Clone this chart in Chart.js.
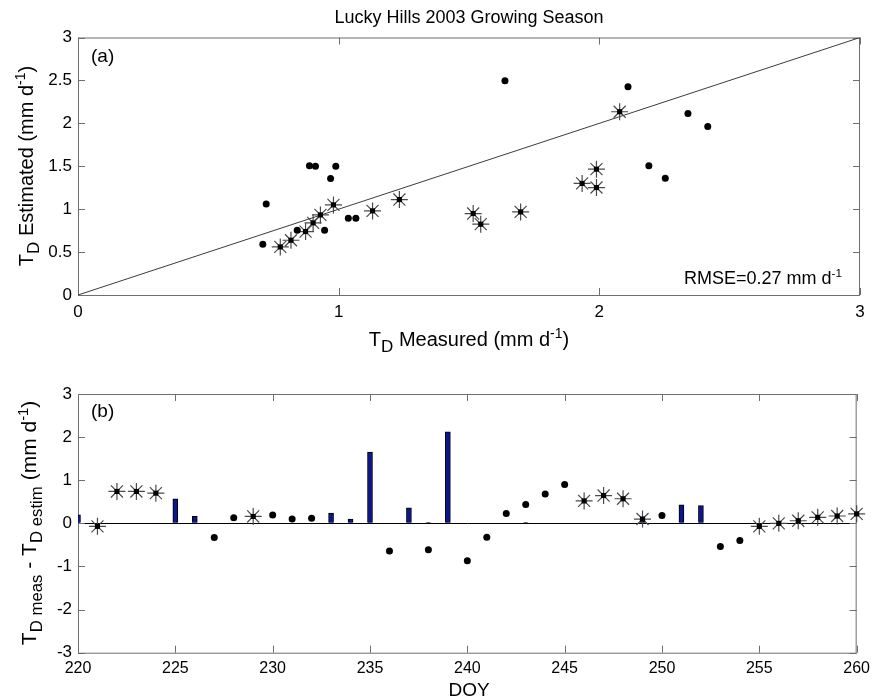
<!DOCTYPE html>
<html>
<head>
<meta charset="utf-8">
<script src="https://cdn.jsdelivr.net/npm/chart.js@4.4.1/dist/chart.umd.min.js"></script>
<style>
  html, body { margin: 0; padding: 0; background: #fff; }
  #wrap { position: relative; width: 876px; height: 700px; }
  canvas { position: absolute; left: 0; }
</style>
</head>
<body>
<div id="wrap">
  <canvas id="chartA" width="876" height="365" style="top:0"></canvas>
  <canvas id="chartB" width="876" height="335" style="top:365px"></canvas>
</div>
<script>
// (a) measured vs estimated, mm/d
const dotMeasured  = [0.709, 0.722, 0.841, 0.888, 0.911, 0.946, 0.969, 0.989, 1.037, 1.066, 1.638, 2.110, 2.190, 2.253, 2.340, 2.416];
const dotEstimated = [0.59, 1.06, 0.755, 1.505, 1.50, 0.755, 1.357, 1.50, 0.895, 0.895, 2.497, 2.427, 1.505, 1.36, 2.116, 1.964];
const starMeasured  = [0.776, 0.817, 0.873, 0.902, 0.930, 0.980, 1.130, 1.233, 1.516, 1.545, 1.698, 1.934, 1.989, 1.989, 2.078];
const starEstimated = [0.56, 0.638, 0.739, 0.84, 0.933, 1.05, 0.98, 1.112, 0.949, 0.825, 0.968, 1.30, 1.466, 1.252, 2.135];
const oneToOne = [0, 3];

// (b) difference by day of year
const dotDays = [227, 228, 230, 231, 232, 236, 238, 240, 241, 242, 243, 244, 245, 250, 253, 254];
const dotDiff = [-0.33, 0.13, 0.195, 0.10, 0.12, -0.64, -0.61, -0.87, -0.32, 0.23, 0.44, 0.68, 0.90, 0.18, -0.535, -0.40];
const starDays = [221, 222, 223, 224, 229, 246, 247, 248, 249, 255, 256, 257, 258, 259, 260];
const starDiff = [-0.07, 0.74, 0.74, 0.70, 0.16, 0.52, 0.645, 0.57, 0.10, -0.07, 0.0, 0.06, 0.14, 0.17, 0.22];
const barDays = [220, 225, 226, 233, 234, 235, 237, 238, 239, 243, 249, 251, 252];
const barDiff = [0.20, 0.57, 0.16, 0.24, 0.10, 1.655, 0.36, 0.02, 2.12, 0.02, 0.12, 0.43, 0.41];

const FONT = "'Liberation Sans', Arial, sans-serif";
const FRAME = '#6e6e6e';

const pts = (xs, ys) => xs.map((x, i) => ({x: x, y: ys[i]}));

// text with sub/superscripts: runs of [text, scale, dy]
function drawRuns(ctx, runs, x, y, align, size, rotate) {
    ctx.save();
    ctx.translate(x, y);
    if (rotate) ctx.rotate(-Math.PI / 2);
    ctx.textBaseline = 'alphabetic';
    ctx.textAlign = 'left';
    ctx.fillStyle = '#000';
    let total = 0;
    for (const r of runs) {
        ctx.font = (size * r[1]) + 'px ' + FONT;
        total += ctx.measureText(r[0]).width;
    }
    let cx = align === 'center' ? -total / 2 : (align === 'right' ? -total : 0);
    for (const r of runs) {
        ctx.font = (size * r[1]) + 'px ' + FONT;
        ctx.fillText(r[0], cx, r[2] * size);
        cx += ctx.measureText(r[0]).width;
    }
    ctx.restore();
}

// box round the plot with inward ticks, matlab style
const framePlugin = {
    id: 'frame',
    beforeDatasetsDraw(chart) {
        const {ctx, chartArea: a, scales} = chart;
        ctx.save();
        ctx.strokeStyle = FRAME;
        ctx.lineWidth = 1;
        ctx.strokeRect(a.left + 0.5, a.top + 0.5, a.right - a.left - 1, a.bottom - a.top);
        ctx.beginPath();
        for (const t of scales.x.ticks) {
            const px = Math.round(scales.x.getPixelForValue(t.value)) + 0.5;
            ctx.moveTo(px, a.bottom); ctx.lineTo(px, a.bottom - 7);
            ctx.moveTo(px, a.top); ctx.lineTo(px, a.top + 7);
        }
        for (const t of scales.y.ticks) {
            const py = Math.round(scales.y.getPixelForValue(t.value)) + 0.5;
            ctx.moveTo(a.left, py); ctx.lineTo(a.left + 7, py);
            ctx.moveTo(a.right, py); ctx.lineTo(a.right - 7, py);
        }
        ctx.stroke();
        ctx.restore();
    }
};

const textA = {
    id: 'textA',
    afterDraw(chart) {
        const ctx = chart.ctx;
        drawRuns(ctx, [['Lucky Hills 2003 Growing Season', 1, 0]], 469, 23, 'center', 18, false);
        drawRuns(ctx, [['(a)', 1, 0]], 91, 62, 'left', 19, false);
        drawRuns(ctx, [['RMSE=0.27 mm d', 1, 0], ['-1', 0.65, -0.4]], 842, 284, 'right', 18, false);
        drawRuns(ctx, [['T', 1, 0], ['D', 0.85, 0.3], [' Measured (mm d', 1, 0], ['-1', 0.7, -0.4], [')', 1, 0]],
            469, 346, 'center', 20, false);
        drawRuns(ctx, [['T', 1, 0], ['D', 0.85, 0.3], [' Estimated (mm d', 1, 0], ['-1', 0.7, -0.4], [')', 1, 0]],
            33, 166, 'center', 20, true);
    }
};

const textB = {
    id: 'textB',
    afterDraw(chart) {
        const ctx = chart.ctx;
        drawRuns(ctx, [['(b)', 1, 0]], 91, 52, 'left', 19, false);
        drawRuns(ctx, [['DOY', 1, 0]], 469, 331, 'center', 19, false);
        drawRuns(ctx, [['T', 1, 0], ['D meas', 0.8, 0.3], [' - T', 1, 0], ['D estim', 0.8, 0.3],
            [' (mm d', 1, 0], ['-1', 0.7, -0.4], [')', 1, 0]], 36, 158, 'center', 21, true);
    }
};

const tickFont = {family: FONT, size: 17};
const plainNum = v => String(Math.round(v * 10) / 10);

// star marker = grey asterisk with a black square at its centre
const starSets = (data) => [
    {
        data: data,
        pointStyle: 'star',
        pointRadius: 8.5,
        borderColor: '#4a4a4a',
        borderWidth: 1.2,
        backgroundColor: 'transparent',
        clip: false,
        order: 3
    },
    {
        data: data,
        pointStyle: 'rect',
        pointRadius: 3.6,
        backgroundColor: '#000',
        borderWidth: 0,
        clip: false,
        order: 1
    }
];

const dotSet = (data) => ({
    data: data,
    pointStyle: 'circle',
    pointRadius: 3.5,
    backgroundColor: '#000',
    borderWidth: 0,
    clip: false,
    order: 2
});

new Chart(document.getElementById('chartA'), {
    type: 'scatter',
    data: {
        datasets: [
            {
                data: pts(oneToOne, oneToOne),
                showLine: true,
                borderColor: '#3c3c3c',
                borderWidth: 1,
                pointRadius: 0,
                order: 5
            },
            ...starSets(pts(starMeasured, starEstimated)),
            dotSet(pts(dotMeasured, dotEstimated))
        ]
    },
    options: {
        responsive: false,
        animation: false,
        events: [],
        layout: {padding: {top: 37.5, right: 16, left: 0, bottom: 0}},
        plugins: {legend: {display: false}, tooltip: {enabled: false}},
        scales: {
            x: {
                type: 'linear', min: 0, max: 3,
                grid: {display: false, drawTicks: false},
                border: {display: false},
                ticks: {stepSize: 1, color: '#000', font: tickFont, padding: 7, maxRotation: 0, callback: plainNum},
                afterFit: s => { s.height = 70; }
            },
            y: {
                type: 'linear', min: 0, max: 3,
                grid: {display: false, drawTicks: false},
                border: {display: false},
                ticks: {stepSize: 0.5, color: '#000', font: tickFont, padding: 6, callback: plainNum},
                afterFit: s => { s.width = 78; }
            }
        }
    },
    plugins: [framePlugin, textA]
});

new Chart(document.getElementById('chartB'), {
    type: 'scatter',
    data: {
        datasets: [
            {
                type: 'bar',
                data: pts(barDays, barDiff),
                backgroundColor: '#0b168a',
                borderColor: '#000',
                borderWidth: 1,
                barThickness: 5,
                order: 6
            },
            ...starSets(pts(starDays, starDiff)),
            dotSet(pts(dotDays, dotDiff))
        ]
    },
    options: {
        responsive: false,
        animation: false,
        events: [],
        layout: {padding: {top: 29, right: 16, left: 0, bottom: 0}},
        plugins: {legend: {display: false}, tooltip: {enabled: false}},
        scales: {
            x: {
                type: 'linear', min: 220, max: 260, offset: false,
                grid: {display: false, drawTicks: false, offset: false},
                border: {display: false},
                ticks: {stepSize: 5, color: '#000', font: {family: FONT, size: 16}, padding: 6, maxRotation: 0},
                afterFit: s => { s.height = 47.3; }
            },
            y: {
                type: 'linear', min: -3, max: 3,
                grid: {
                    drawTicks: false,
                    color: c => (c.tick && c.tick.value === 0 ? '#000' : 'rgba(0,0,0,0)'),
                    lineWidth: 1
                },
                border: {display: false},
                ticks: {stepSize: 1, color: '#000', font: tickFont, padding: 6},
                afterFit: s => { s.width = 78; }
            }
        }
    },
    plugins: [framePlugin, textB]
});
</script>
</body>
</html>
